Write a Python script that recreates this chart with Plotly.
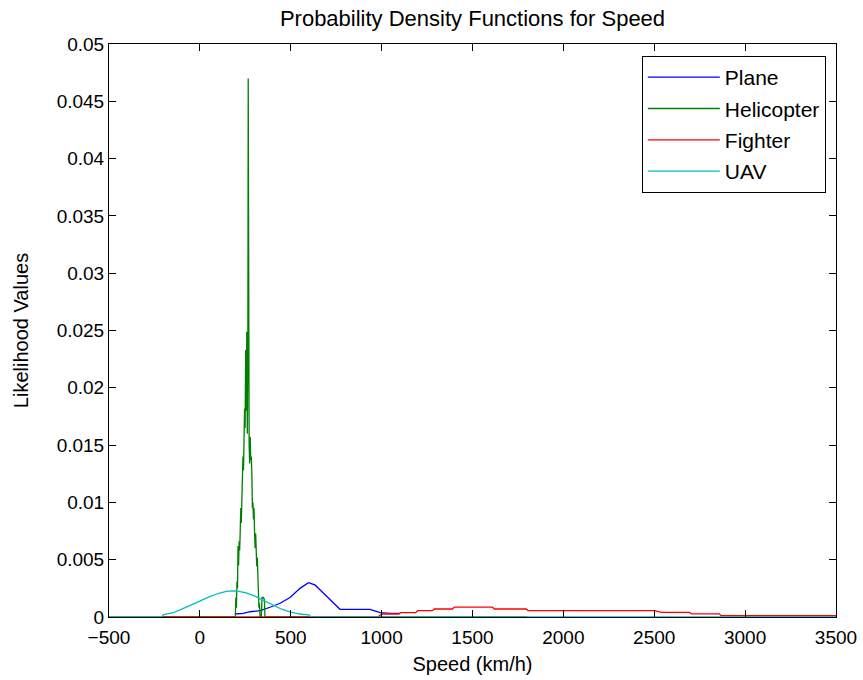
import plotly.graph_objects as go

# ---------------- data ----------------
plane_x = [193, 239, 276, 331, 386, 441, 496, 551, 597, 633, 679, 734, 771, 936, 991, 1046, 1101]
plane_y = [0.00026, 0.00032, 0.00046, 0.00055, 0.00085, 0.0012, 0.0017, 0.0025, 0.0030, 0.0028,
           0.0021, 0.0012, 0.00067, 0.00067, 0.00038, 0.00032, 0.00032]

heli_x = [-500, 190, 195, 198, 201, 204, 207, 210, 213, 216, 219, 222, 225, 228, 231, 234, 237, 240,
          243, 246, 249, 252, 255, 258, 261, 264, 266, 268, 271, 274, 277, 280, 283, 286, 289, 292,
          295, 298, 301, 304, 307, 310, 313, 316, 319, 322, 325, 328, 331, 338, 342, 350, 355, 358, 1800]
heli_y = [0, 0, 0, 0.0017, 0.0008, 0.0031, 0.0025, 0.0062, 0.0045, 0.0066, 0.0058, 0.0075, 0.0095,
          0.0082, 0.0097, 0.0118, 0.0140, 0.0128, 0.0160, 0.0182, 0.0165, 0.0233, 0.0180, 0.0249,
          0.0160, 0.0233, 0.0470, 0.0157, 0.0150, 0.0134, 0.0157, 0.0137, 0.0140, 0.0125, 0.0095,
          0.0100, 0.0085, 0.0095, 0.0073, 0.0060, 0.0073, 0.0057, 0.0044, 0.0052, 0.0030, 0.0024,
          0.0008, 0.0012, 0, 0, 0.0017, 0.0017, 0.0015, 0, 0]

fighter_x = [-210, 980, 1000, 1095, 1105, 1188, 1198, 1280, 1290, 1390, 1400, 1610, 1620, 1795, 1805,
             2500, 2540, 2695, 2705, 2858, 2868, 3500]
fighter_y = [0, 0, 0.00026, 0.00026, 0.00038, 0.00038, 0.00055, 0.00055, 0.00070, 0.00070, 0.00087,
             0.00087, 0.00070, 0.00070, 0.00056, 0.00056, 0.00040, 0.00040, 0.00027, 0.00027,
             0.00011, 0.00011]

uav_x = [-500, -210, -200, -150, -100, -50, 0, 50, 100, 150, 200, 250, 300, 350, 400, 450, 500,
         550, 600, 610, 3500]
uav_y = [0, 0, 0.00020, 0.00035, 0.00068, 0.00100, 0.00138, 0.00175, 0.00205, 0.00225, 0.00228,
         0.00212, 0.00185, 0.00145, 0.00103, 0.00068, 0.00042, 0.00026, 0.00018, 0, 0]

x_ticks = [-500, 0, 500, 1000, 1500, 2000, 2500, 3000, 3500]
y_ticks = [0, 0.005, 0.01, 0.015, 0.02, 0.025, 0.03, 0.035, 0.04, 0.045, 0.05]
y_tick_text = ["0", "0.005", "0.01", "0.015", "0.02", "0.025", "0.03", "0.035", "0.04", "0.045", "0.05"]

series = [
    ("Plane", plane_x, plane_y, "#0000FF"),
    ("Helicopter", heli_x, heli_y, "#008000"),
    ("Fighter", fighter_x, fighter_y, "#FF0000"),
    ("UAV", uav_x, uav_y, "#00BFBF"),
]

FONT = "Arial, Liberation Sans, Helvetica, sans-serif"

fig = go.Figure()
for name, xs, ys, col in series:
    fig.add_trace(go.Scatter(x=xs, y=ys, mode="lines", name=name, legendgroup=name,
                             line=dict(color=col, width=1.3)))

axis_common = dict(showline=True, linecolor="black", linewidth=1, mirror="ticks",
                   ticks="inside", ticklen=7, tickcolor="black", tickwidth=1,
                   showgrid=False, zeroline=False, automargin=False,
                   tickfont=dict(family=FONT, size=19, color="black"))

fig.update_layout(
    width=863, height=680,
    margin=dict(l=109, r=27, t=44, b=63),
    paper_bgcolor="white", plot_bgcolor="white",
    font=dict(family=FONT, color="black"),
    title=dict(text="Probability Density Functions for Speed", x=0.5, xref="paper",
               xanchor="center", y=1 - 18 / 680, yanchor="middle", yref="container",
               font=dict(family=FONT, size=22, color="black")),
    xaxis=dict(range=[-500, 3500], tickvals=x_ticks, ticklabelstandoff=3,
               title=dict(text="Speed (km/h)", font=dict(family=FONT, size=20), standoff=10),
               **axis_common),
    yaxis=dict(range=[0, 0.05], tickvals=y_ticks, ticktext=y_tick_text,
               title=dict(text="Likelihood Values", font=dict(family=FONT, size=20), standoff=22),
               **axis_common),
    legend=dict(x=0.986, xanchor="right", y=0.979, yanchor="top",
                bgcolor="white", bordercolor="black", borderwidth=1,
                font=dict(family=FONT, size=21, color="black"),
                tracegroupgap=1, itemwidth=72),
    showlegend=True,
)

fig.write_html("out.html", config={"displayModeBar": False},
               post_script="document.body.style.margin='0px';")
